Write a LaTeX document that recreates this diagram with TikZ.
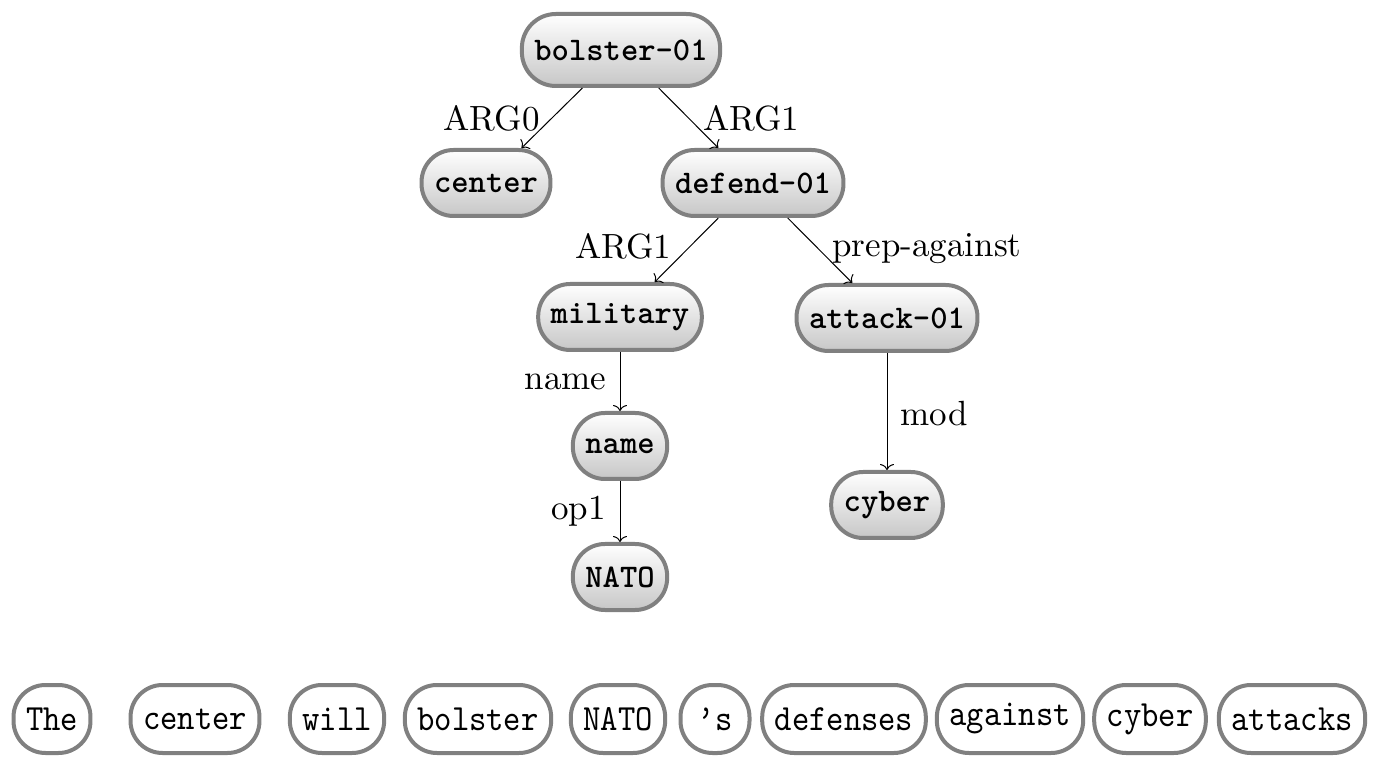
\documentclass[tikz,border=0pt]{standalone}
\usepackage{fontspec}
\newfontfamily\labfont{lmroman10-regular}[Extension=.otf]
\newfontfamily\wordfont{lmmono10-regular}[Extension=.otf]
\usetikzlibrary{arrows.meta}
\tikzset{
  amr/.style={draw=black!50, line width=2pt, rectangle, rounded corners=16pt,
    top color=white, bottom color=black!22, minimum height=33pt, inner xsep=6.25pt, inner ysep=0pt,
    font=\fontsize{16.5}{20}\selectfont\ttfamily\bfseries},
  word/.style={draw=black!50, line width=2pt, rectangle, rounded corners=16pt, fill=white,
    minimum height=34pt, minimum width=34.5pt, inner xsep=6.25pt, inner ysep=0pt,
    font=\fontsize{16.5}{20}\wordfont},
  rel/.style={draw=black, line width=0.5pt, -{To[length=3pt,width=7pt]}},
  lab/.style={inner sep=0pt, font=\fontsize{17.5}{21}\labfont}
}
\newcommand{\wordtxt}[1]{\scalebox{1}[1.12]{#1}}
\begin{document}
\begin{tikzpicture}[x=0.5pt,y=-0.5pt]
\useasboundingbox (0,0) rectangle (1381,769);
% AMR graph
\node[amr, minimum height=36pt, rounded corners=17pt] (bolster) at (621,50) {bolster-01};
\node[amr] (center) at (486,183) {center};
\node[amr] (defend) at (753,183) {defend-01};
\node[amr] (military) at (620,317) {military};
\node[amr] (attack) at (887,318) {attack-01};
\node[amr] (name) at (620,446) {name};
\node[amr] (cyber) at (887,505) {cyber};
\node[amr] (nato) at (620,577) {NATO};
% edges
\draw[rel] (bolster) -- node[lab, anchor=east, shift={(-12,0)}] {ARG0} (center);
\draw[rel] (bolster) -- node[lab, anchor=west, shift={(14,0)}] {ARG1} (defend);
\draw[rel] (defend) -- node[lab, anchor=east, shift={(-15,-4)}] {ARG1} (military);
\draw[rel] (defend) -- node[lab, anchor=west, shift={(12,-2)}] {prep-against} (attack);
\draw[rel] (military) -- node[lab, anchor=east, shift={(-13,0)}] {name} (name);
\draw[rel] (name) -- node[lab, anchor=east, shift={(-14,0)}] {op1} (nato);
\draw[rel] (attack) -- node[lab, anchor=west, shift={(13,2)}] {mod} (cyber);
% sentence
\node[word] (w1) at (52,719) {\wordtxt{The}};
\node[word] (w2) at (195,719) {\wordtxt{center}};
\node[word] (w3) at (337,719) {\wordtxt{will}};
\node[word] (w4) at (478,719) {\wordtxt{bolster}};
\node[word] (w5) at (618,719) {\wordtxt{NATO}};
\node[word] (w6) at (715,719) {\wordtxt{’s}};
\node[word] (w7) at (844,719) {\wordtxt{defenses}};
\node[word] (w8) at (1010,719) {\wordtxt{against}};
\node[word] (w9) at (1150,719) {\wordtxt{cyber}};
\node[word] (w10) at (1292,719) {\wordtxt{attacks}};
\end{tikzpicture}
\end{document}
